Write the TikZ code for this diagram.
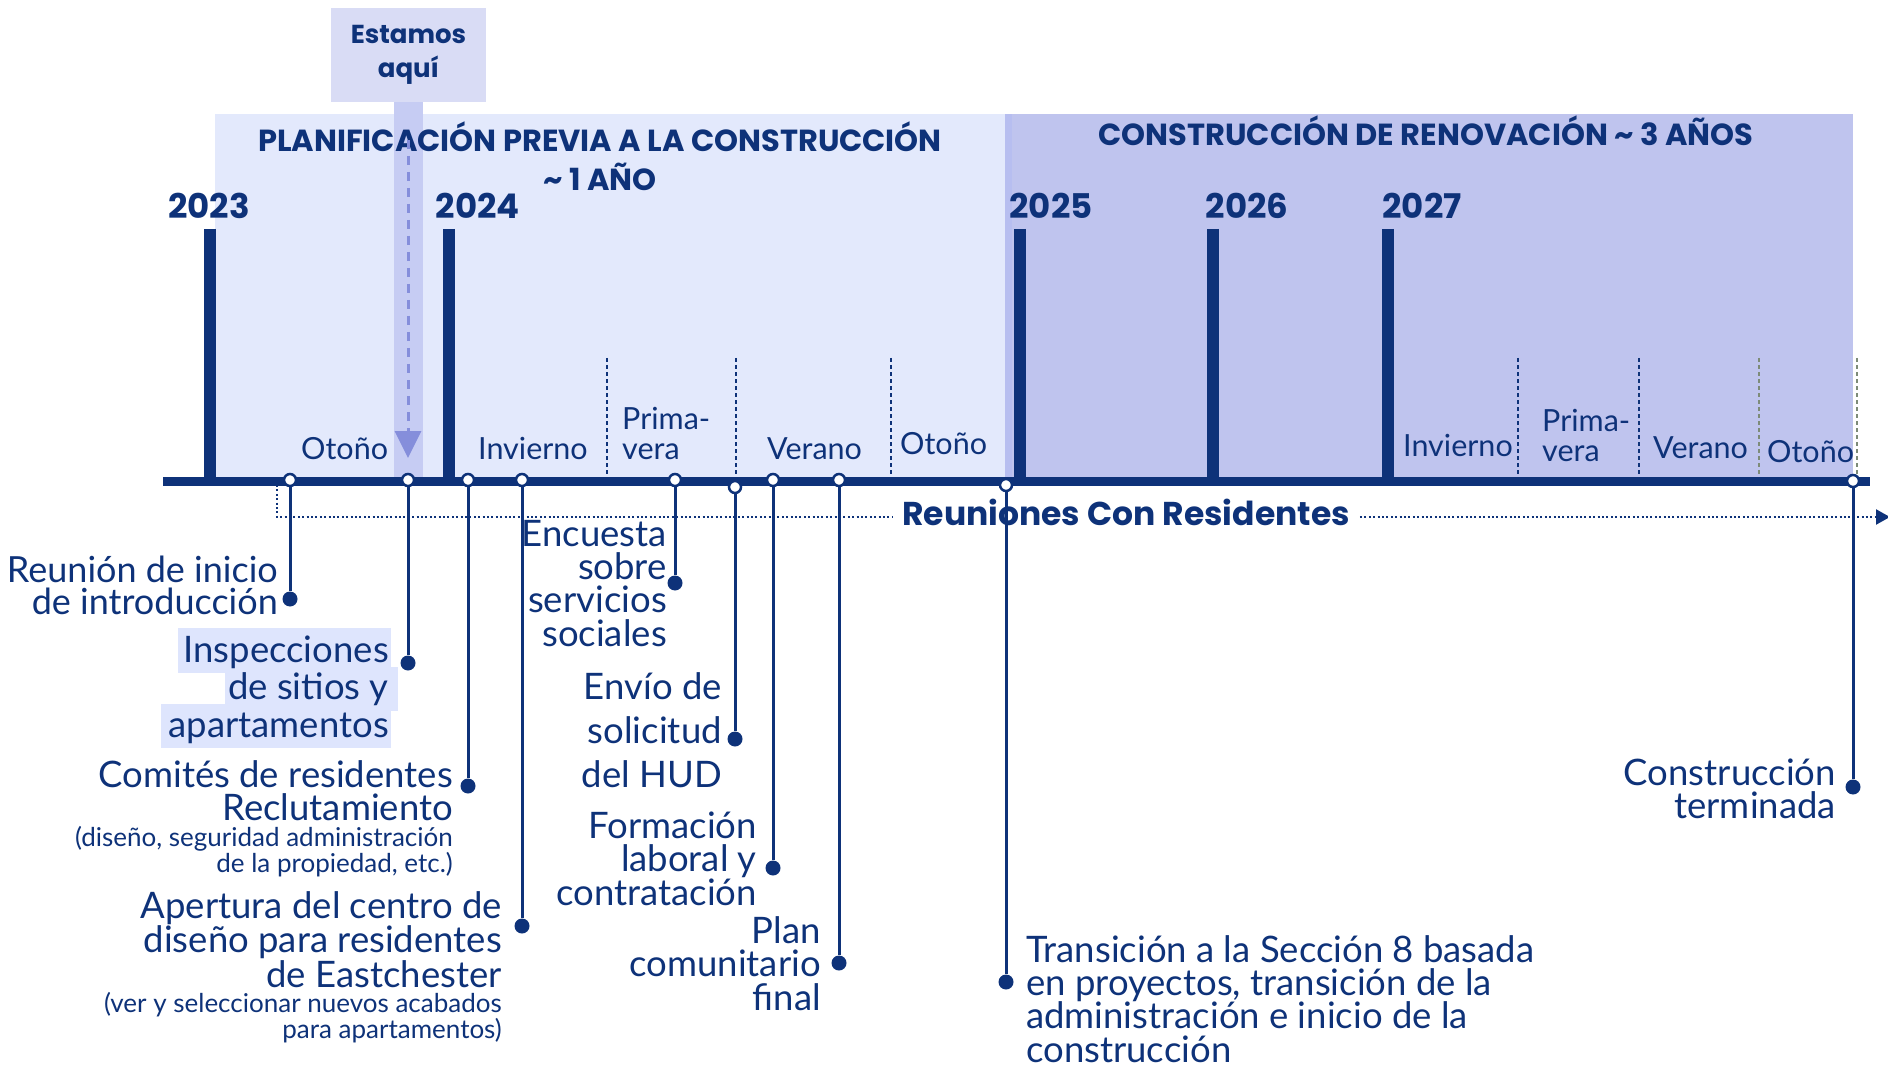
\documentclass[tikz,border=0pt]{standalone}
\usepackage{fontspec}
\setmainfont{Lato}
\newfontfamily\headfont{Poppins}
\usetikzlibrary{arrows.meta}

\definecolor{navy}{HTML}{0E3279}
\definecolor{planbg}{HTML}{E3E9FC}
\definecolor{constbg}{HTML}{BFC4EE}
\definecolor{constedge}{HTML}{B7BEF0}
\definecolor{herebg}{HTML}{D9DCF5}
\definecolor{herestrip}{HTML}{C6CCF3}
\definecolor{herearrow}{HTML}{858EDB}
\definecolor{marktext}{HTML}{DEE5FD}
\definecolor{divgray}{HTML}{7D8B78}

\begin{document}
\begin{tikzpicture}[
    x=1pt, y=-1pt,
    ring/.style    = {draw=navy, circle, fill=white, line width=2.5pt, inner sep=0pt, minimum size=12pt},
    dot/.style     = {circle, fill=navy, inner sep=0pt, minimum size=15pt},
    stem/.style    = {draw=navy, line width=3pt},
    evt/.style     = {text=navy, inner sep=0pt, align=right, anchor=base east, font=\fontsize{36.5}{33}\selectfont},
    note/.style    = {evt, font=\fontsize{26}{24}\selectfont},
    season/.style  = {text=navy, inner sep=0pt, anchor=base west, align=left, font=\fontsize{30.5}{30}\selectfont},
    year/.style    = {text=navy, inner sep=0pt, anchor=base, font=\headfont\bfseries\fontsize{34}{34}\selectfont},
    head/.style    = {text=navy, inner sep=0pt, anchor=base, align=center, font=\headfont\bfseries\fontsize{30.5}{39}\selectfont},
    yearbar/.style = {navy, line width=12pt},
    divider/.style = {navy, line width=1.5pt, dash pattern=on 4pt off 3pt},
    meetline/.style= {navy, line width=2.2pt, dash pattern=on 2pt off 2.4pt},
  ]
	\useasboundingbox (0,0) rectangle (1888,1067);

	% Hintergrund der Phasen
	\fill[planbg] (215,114) rectangle (1005,481);
	\fill[constbg] (1005,114) rectangle (1853,481);
	\fill[constedge] (1005,114) rectangle (1012,481);
	\fill[herestrip] (394,102) rectangle (423,485);
	\node[fill=herebg, minimum width=155pt, minimum height=94pt, inner sep=0pt, text=navy, align=center,
	      font=\headfont\bfseries\fontsize{26}{34}\selectfont] (estamos) at (408.5,55) {Estamos\\aquí};

	% Überschriften (Grundlinie der letzten Zeile)
	\node[head] (plan) at (600,191) {PLANIFICACIÓN PREVIA A LA CONSTRUCCIÓN\\\textasciitilde{} 1 AÑO};
	\node[head] (constr) at (1426,146) {CONSTRUCCIÓN DE RENOVACIÓN \textasciitilde{} 3 AÑOS};

	% Jahre
	\draw[yearbar] (210,229) -- (210,481);
	\draw[yearbar] (449,229) -- (449,481);
	\draw[yearbar] (1019.5,229) -- (1019.5,481);
	\draw[yearbar] (1213,229) -- (1213,481);
	\draw[yearbar] (1388,229) -- (1388,481);
	\node[year] (y2023) at (209,219) {2023};
	\node[year] (y2024) at (478,219) {2024};
	\node[year] (y2025) at (1051,219) {2025};
	\node[year] (y2026) at (1247,219) {2026};
	\node[year] (y2027) at (1422,219) {2027};

	% Jahreszeiten
	\draw[divider] (607,358) -- (607,476);
	\draw[divider] (736,358) -- (736,476);
	\draw[divider] (891,358) -- (891,476);
	\draw[divider] (1518,358) -- (1518,476);
	\draw[divider] (1639,358) -- (1639,476);
	\draw[divider, divgray] (1759,358) -- (1759,476);
	\draw[divider, divgray] (1857,358) -- (1857,476);
	\node[season] (s1) at (301,459) {Otoño};
	\node[season] (s2) at (478,459) {Invierno};
	\node[season] (s3) at (622,459) {Prima-\\vera};
	\node[season] (s4) at (767,459) {Verano};
	\node[season] (s5) at (900,454) {Otoño};
	\node[season] (s6) at (1403,456) {Invierno};
	\node[season] (s7) at (1542,461) {Prima-\\vera};
	\node[season] (s8) at (1653,458) {Verano};
	\node[season] (s9) at (1767,462) {Otoño};

	% Zeitachse
	\draw[navy, line width=9pt] (163,481) -- (1870,481);

	% Estamos aquí
	\coordinate (hereTop) at (408,140);
	\coordinate (hereTip) at (408,458);
	\draw[herearrow, line width=3pt, dash pattern=on 9pt off 7pt, -{Triangle[width=26pt,length=27pt]}] (hereTop) -- (hereTip);

	% Reuniones
	\coordinate (meetTop) at (277,485);
	\coordinate (meetCorner) at (277,517);
	\coordinate (meetEnd) at (1890,517);
	\node[text=navy, inner xsep=10pt, inner ysep=0pt, anchor=base west,
	      font=\headfont\bfseries\fontsize{33}{33}\selectfont] (meet) at (892,525) {Reuniones Con Residentes};
	\draw[meetline] (meetTop) -- (meetCorner) -- (meetCorner -| meet.west);
	\draw[meetline, -{Triangle[width=15pt,length=14pt]}] (meet.east |- meetCorner) -- (meetEnd);

	% Ereignisse
	\node[ring] (m1) at (290,480) {};
	\node[ring] (m2) at (408,480) {};
	\node[ring] (m3) at (468,480) {};
	\node[ring] (m4) at (522,480) {};
	\node[ring] (m5) at (675,480) {};
	\node[ring] (m6) at (735,487) {};
	\node[ring] (m7) at (773,480) {};
	\node[ring] (m8) at (839,480) {};
	\node[ring] (m9) at (1006,485) {};
	\node[ring] (m10) at (1853,481) {};
	\node[dot] (d1) at (290,599) {};
	\node[dot] (d2) at (408,663) {};
	\node[dot] (d3) at (468,786) {};
	\node[dot] (d4) at (522,926) {};
	\node[dot] (d5) at (675,583) {};
	\node[dot] (d6) at (735,739) {};
	\node[dot] (d7) at (773,868) {};
	\node[dot] (d8) at (839,963) {};
	\node[dot] (d9) at (1006,982) {};
	\node[dot] (d10) at (1853,787) {};
	\draw[stem] (m1) -- (d1);
	\draw[stem] (m2) -- (d2);
	\draw[stem] (m3) -- (d3);
	\draw[stem] (m4) -- (d4);
	\draw[stem] (m5) -- (d5);
	\draw[stem] (m6) -- (d6);
	\draw[stem] (m7) -- (d7);
	\draw[stem] (m8) -- (d8);
	\draw[stem] (m9) -- (d9);
	\draw[stem] (m10) -- (d10);

	% Beschriftungen (Grundlinie der letzten Zeile)
	\fill[marktext] (178,628) rectangle (391,673);
	\fill[marktext] (225,667) rectangle (398,711);
	\fill[marktext] (161,704) rectangle (391,748);
	\node[evt, font=\fontsize{36}{32}\selectfont] (t1) at (278,614) {Reunión de inicio\\de introducción};
	\node[evt, font=\fontsize{36.5}{37.5}\selectfont] (t2) at (389,737) {Inspecciones\\de sitios y\\apartamentos};
	\node[evt] (t3) at (453,820) {Comités de residentes\\Reclutamiento};
	\node[note] (n3) at (453,872) {(diseño, seguridad administración\\de la propiedad, etc.)};
	\node[evt, font=\fontsize{36.5}{34.5}\selectfont] (t4) at (502,987) {Apertura del centro de\\diseño para residentes\\de Eastchester};
	\node[note, font=\fontsize{26}{23}\selectfont] (n4) at (502,1038) {(ver y seleccionar nuevos acabados\\para apartamentos)};
	\node[evt, font=\fontsize{36.5}{33.3}\selectfont] (t5) at (667,646) {Encuesta\\sobre\\servicios\\sociales};
	\node[evt, font=\fontsize{36.5}{44}\selectfont] (t6) at (722,787) {Envío de\\solicitud\\del HUD};
	\node[evt, font=\fontsize{36.5}{33.5}\selectfont] (t7) at (757,905) {Formación\\laboral y\\contratación};
	\node[evt, font=\fontsize{36.5}{33.5}\selectfont] (t8) at (821,1010) {Plan\\comunitario\\final};
	\node[evt, font=\fontsize{36.5}{33.3}\selectfont, align=left, anchor=base west] (t9) at (1026,1062) {Transición a la Sección 8 basada\\en proyectos, transición de la\\administración e inicio de la\\construcción};
	\node[evt] (t10) at (1836,818) {Construcción\\terminada};
\end{tikzpicture}
\end{document}
